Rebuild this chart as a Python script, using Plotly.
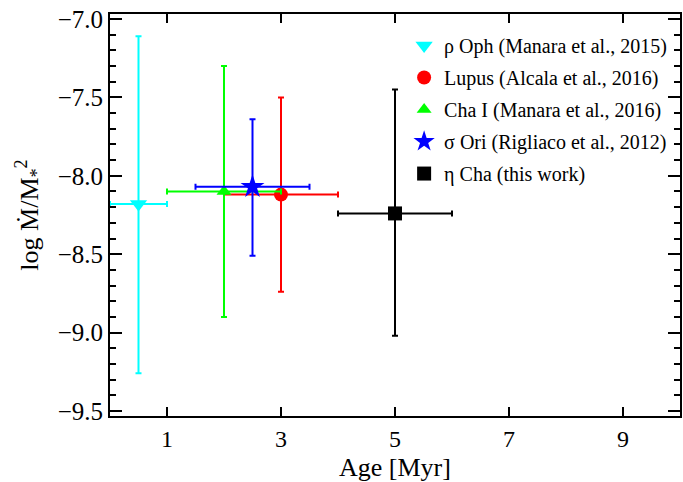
import plotly.graph_objects as go

# Mean age and accretion ratio for each star-forming region
regions = ["ρ Oph (Manara et al., 2015)", "Lupus (Alcala et al., 2016)",
           "Cha I (Manara et al., 2016)", "σ Ori (Rigliaco et al., 2012)",
           "η Cha (this work)"]
age = [0.5, 3.0, 2.0, 2.5, 5.0]
age_err = [0.5, 1.0, 1.0, 1.0, 1.0]
log_ratio = [-8.18, -8.12, -8.10, -8.07, -8.24]
log_err_plus = [1.07, 0.62, 0.80, 0.43, 0.79]
log_err_minus = [1.08, 0.62, 0.80, 0.44, 0.78]

colors = ["#00FFFF", "#FF0000", "#00FF00", "#0000FF", "#000000"]
symbols = ["triangle-down", "circle", "triangle-up", "star", "square"]
sizes = [15, 14, 13, 18, 14]

y_ticks = [-9.5, -9.0, -8.5, -8.0, -7.5, -7.0]
x_ticks = [1, 3, 5, 7, 9]

FONT = "Liberation Serif"

fig = go.Figure()
for i, name in enumerate(regions):
    fig.add_trace(go.Scatter(
        x=[age[i]], y=[log_ratio[i]],
        mode="markers", name=name, legendgroup=name,
        marker=dict(symbol=symbols[i], size=sizes[i], color=colors[i],
                    line=dict(width=0)),
        error_x=dict(type="data", array=[age_err[i]], color=colors[i],
                     thickness=2, width=3),
        error_y=dict(type="data", symmetric=False,
                     array=[log_err_plus[i]], arrayminus=[log_err_minus[i]],
                     color=colors[i], thickness=2, width=3),
    ))

fig.update_layout(
    width=683, height=482,
    margin=dict(l=110, r=1, t=14, b=66),
    paper_bgcolor="white", plot_bgcolor="white",
    font=dict(family=FONT, color="black"),
    showlegend=True,
    legend=dict(x=0.516, y=0.97, xanchor="left", yanchor="top",
                bgcolor="rgba(0,0,0,0)", borderwidth=0,
                font=dict(family=FONT, size=20, color="black"),
                traceorder="grouped", tracegroupgap=3,
                itemwidth=30),
    xaxis=dict(
        range=[0, 10], tickvals=x_ticks, ticktext=[str(v) for v in x_ticks],
        ticks="inside", ticklen=9, tickwidth=2, tickcolor="black",
        showline=True, linewidth=2, linecolor="black", mirror="ticks",
        showgrid=False, zeroline=False,
        tickfont=dict(family=FONT, size=24),
        title=dict(text="Age [Myr]", font=dict(family=FONT, size=26), standoff=7),
    ),
    yaxis=dict(
        range=[-9.532, -6.968], tickvals=y_ticks,
        ticktext=["−%.1f" % abs(v) for v in y_ticks],
        ticks="inside", ticklen=12, tickwidth=2, tickcolor="black",
        showline=True, linewidth=2, linecolor="black", mirror="ticks",
        showgrid=False, zeroline=False,
        minor=dict(dtick=0.1, tick0=-9.5, ticks="inside", ticklen=6,
                   tickwidth=2, tickcolor="black", showgrid=False),
        tickfont=dict(family=FONT, size=25),
        title=dict(text="log Ṁ/M<sub>*</sub><sup>2</sup>",
                   font=dict(family=FONT, size=26), standoff=12),
    ),
)

fig.write_html("out.html")
